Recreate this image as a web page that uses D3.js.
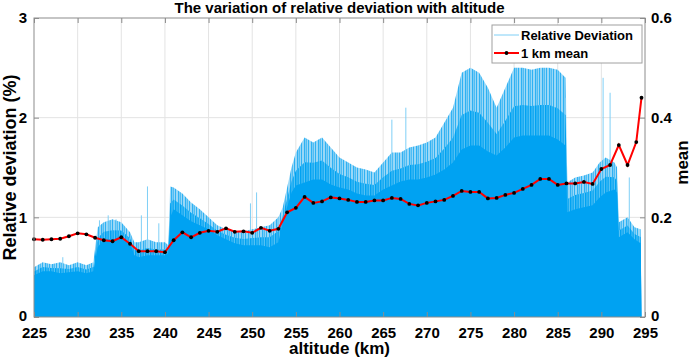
<!DOCTYPE html>
<html><head><meta charset="utf-8">
<script src="https://cdn.jsdelivr.net/npm/d3@7"></script>
<style>body{margin:0;background:#fff;}svg{display:block;font-family:"Liberation Sans",Arial,sans-serif;font-weight:bold;}</style>
</head><body><svg id="c" width="692" height="357"></svg>
<script>
// ---- data ----
const xTicks = [225,230,235,240,245,250,255,260,265,270,275,280,285,290,295];
const yLeftTicks = [0,1,2,3];
const yRightTicks = [0,0.2,0.4,0.6];
const yRightLabels = ["0","0.2","0.4","0.6"];

// 1 km mean (right axis)
const meanAlt = [225,226,227,228,229,230,231,232,233,234,235,236,237,238,239,240,241,242,243,244,245,246,247,248,249,250,251,252,253,254,255,256,257,258,259,260,261,262,263,264,265,266,267,268,269,270,271,272,273,274,275,276,277,278,279,280,281,282,283,284,285,286,287,288,289,290,291,292,293,294,294.6];
const meanVal = [0.156,0.155,0.156,0.157,0.162,0.168,0.166,0.159,0.154,0.152,0.160,0.147,0.132,0.132,0.132,0.130,0.154,0.170,0.160,0.169,0.173,0.171,0.178,0.171,0.172,0.169,0.179,0.173,0.177,0.210,0.219,0.241,0.229,0.232,0.240,0.238,0.235,0.231,0.231,0.234,0.234,0.239,0.237,0.227,0.224,0.229,0.232,0.235,0.243,0.253,0.251,0.251,0.238,0.239,0.245,0.249,0.257,0.265,0.277,0.277,0.265,0.268,0.268,0.271,0.267,0.297,0.305,0.345,0.305,0.351,0.440];

// relative deviation envelope (left axis, %): dense part and spike tops
const rdAlt  = [225,226,227,228,229,230,231,231.8,232.3,233,234,235,236,236.5,237,238,239,240,240.4,240.6,241,242,243,244,245,246,247,248,249,250,251,252,253,253.5,254,254.5,255,256,257,258,259,260,261,262,263,264,265,266,267,268,269,270,271,272,273,274,275,276,277,278,279,280,281,282,283,284,285,285.9,286.1,287,288,289,289.8,290.5,291.5,291.8,292,293,293.8,294.5,294.6];
const rdBase = [0.42,0.46,0.46,0.44,0.45,0.46,0.44,0.46,0.70,0.78,0.78,0.80,0.74,0.62,0.60,0.62,0.62,0.62,0.64,1.00,1.08,1.02,0.96,0.92,0.88,0.82,0.78,0.74,0.72,0.72,0.72,0.70,0.75,0.95,1.10,1.25,1.32,1.35,1.38,1.38,1.33,1.30,1.28,1.24,1.22,1.22,1.28,1.32,1.36,1.38,1.38,1.40,1.43,1.48,1.55,1.68,1.72,1.72,1.66,1.62,1.70,1.80,1.82,1.82,1.82,1.82,1.78,1.72,1.05,1.08,1.10,1.12,1.20,1.25,1.28,1.25,0.80,0.85,0.78,0.74,0];
const rdPeak = [0.50,0.55,0.53,0.55,0.52,0.55,0.52,0.55,0.90,0.95,0.98,0.95,0.85,0.75,0.75,0.78,0.75,0.75,0.72,1.31,1.30,1.24,1.15,1.08,1.00,0.92,0.88,0.86,0.86,0.88,0.90,0.92,1.00,1.10,1.30,1.50,1.65,1.80,1.75,1.80,1.70,1.60,1.55,1.50,1.48,1.45,1.55,1.65,1.65,1.70,1.72,1.75,1.80,1.95,2.10,2.45,2.50,2.45,2.30,2.10,2.30,2.50,2.50,2.48,2.50,2.50,2.48,2.40,1.35,1.40,1.42,1.45,1.55,1.60,1.55,1.50,0.95,1.00,0.90,0.88,0];
// isolated tall spikes
const spikeAlt = [228.3,232.5,233.5,234.4,237.3,238.0,239.3,249.8,250.5,253.0,266.0,267.6,285.9,290.2,291.0,293.2];
const spikeVal = [0.60,0.97,1.02,0.98,1.02,1.31,0.94,1.14,1.25,1.00,1.98,2.10,2.20,2.40,2.25,1.40];

// ---- layout ----
const svg = d3.select("#c");
const L=34, R=645, T=18, B=317;
const x = d3.scaleLinear().domain([225,295]).range([L,R]);
const yL = d3.scaleLinear().domain([0,3]).range([B,T]);
const yR = d3.scaleLinear().domain([0,0.6]).range([B,T]);
const solid = "#00a2f2", pale = "#9ad8f7", mid = "#2fb1f3";

// grid
const g = svg.append("g");
g.selectAll(".gx").data(xTicks.slice(1,-1)).join("line")
  .attr("x1",d=>x(d)).attr("x2",d=>x(d)).attr("y1",T).attr("y2",B)
  .attr("stroke","#e3e3e3").attr("stroke-width",1);
g.selectAll(".gy").data(yLeftTicks.slice(1,-1)).join("line")
  .attr("x1",L).attr("x2",R).attr("y1",d=>yL(d)).attr("y2",d=>yL(d))
  .attr("stroke","#e3e3e3").attr("stroke-width",1);

// stripe patterns for the spiky region
const defs = svg.append("defs");
function stripes(id, bg, fg, w, offs){
  const p = defs.append("pattern").attr("id",id).attr("patternUnits","userSpaceOnUse")
    .attr("width",w).attr("height",10);
  p.append("rect").attr("width",w).attr("height",10).attr("fill",bg);
  offs.forEach(o=>p.append("rect").attr("x",o[0]).attr("width",o[1]).attr("height",10).attr("fill",fg));
}
stripes("s1", pale, mid, 7, [[0,1],[3,1.3],[5,0.7]]);
stripes("s2", "#55c2f5", solid, 5, [[0,1.5],[2.5,1.2]]);

const rd = rdAlt.map((a,i)=>({a,b:rdBase[i],p:rdPeak[i]}));
svg.append("path").datum(rd)
  .attr("d",d3.area().x(d=>x(d.a)).y0(yL(0)).y1(d=>yL(d.p)))
  .attr("fill","url(#s1)");
svg.append("g").selectAll("line").data(spikeAlt.map((a,i)=>({a,v:spikeVal[i]}))).join("line")
  .attr("x1",d=>x(d.a)).attr("x2",d=>x(d.a)).attr("y1",yL(0)).attr("y2",d=>yL(d.v))
  .attr("stroke","#7fcff6").attr("stroke-width",1);
svg.append("path").datum(rd)
  .attr("d",d3.area().x(d=>x(d.a)).y0(yL(0)).y1(d=>yL(d.b+(d.p-d.b)*0.45)))
  .attr("fill","url(#s2)");
svg.append("path").datum(rd)
  .attr("d",d3.area().x(d=>x(d.a)).y0(yL(0)).y1(d=>yL(d.b)))
  .attr("fill",solid);

// mean line
const mp = meanAlt.map((a,i)=>({a,v:meanVal[i]}));
svg.append("path").datum(mp)
  .attr("d",d3.line().x(d=>x(d.a)).y(d=>yR(d.v)))
  .attr("fill","none").attr("stroke","#ff0000").attr("stroke-width",2);
svg.append("g").selectAll("circle").data(mp).join("circle")
  .attr("cx",d=>x(d.a)).attr("cy",d=>yR(d.v)).attr("r",1.9).attr("fill","#000");

// axes (MATLAB style, inward ticks)
const axCol = "#8c8c8c";
const ax = svg.append("g");
ax.append("rect").attr("x",L).attr("y",T).attr("width",R-L).attr("height",B-T)
  .attr("fill","none").attr("stroke",axCol).attr("stroke-width",1);
const xb = ax.append("g").attr("transform",`translate(0,${B})`)
  .call(d3.axisBottom(x).tickValues(xTicks).tickSize(-5).tickPadding(10).tickFormat(d3.format("d")));
const xt = ax.append("g").attr("transform",`translate(0,${T})`)
  .call(d3.axisTop(x).tickValues(xTicks).tickSize(-5).tickFormat(""));
const yl = ax.append("g").attr("transform",`translate(${L},0)`)
  .call(d3.axisLeft(yL).tickValues(yLeftTicks).tickSize(-5).tickPadding(7).tickFormat(d3.format("d")));
const yr = ax.append("g").attr("transform",`translate(${R},0)`)
  .call(d3.axisRight(yR).tickValues(yRightTicks).tickSize(-5).tickPadding(6).tickFormat((d,i)=>yRightLabels[i]));
[xb,xt,yl,yr].forEach(s=>{
  s.select(".domain").remove();
  s.selectAll(".tick line").attr("stroke",axCol);
  s.selectAll("text").attr("font-size",15).attr("font-weight","bold").attr("fill","#000")
    .attr("font-family","'Liberation Sans',Arial,sans-serif");
});
xb.selectAll("text").attr("dy","0.71em");
yl.selectAll(".tick").filter(d=>d===0).select("text").attr("dy","0.2em");
yr.selectAll(".tick").filter(d=>d===0).select("text").attr("dy","0.2em");

// titles
svg.append("text").attr("x",(L+R)/2).attr("y",12.5).attr("text-anchor","middle")
  .attr("font-size",15).text("The variation of relative deviation with altitude");
svg.append("text").attr("x",(L+R)/2).attr("y",354).attr("text-anchor","middle")
  .attr("font-size",17).text("altitude (km)");
svg.append("text").attr("transform",`translate(16,${(T+B)/2}) rotate(-90)`).attr("text-anchor","middle")
  .attr("font-size",18).text("Relative deviation (%)");
svg.append("text").attr("transform",`translate(688,${(T+B)/2 - 5}) rotate(-90)`).attr("text-anchor","middle")
  .attr("font-size",17).text("mean");

// legend
const lg = svg.append("g");
lg.append("rect").attr("x",492).attr("y",25).attr("width",150).attr("height",38)
  .attr("fill","#fff").attr("stroke","#a0a0a0").attr("stroke-width",1);
lg.append("line").attr("x1",494).attr("x2",519).attr("y1",35).attr("y2",35)
  .attr("stroke","#7fcff6").attr("stroke-width",1);
lg.append("text").attr("x",521).attr("y",35).attr("dy","0.35em").attr("font-size",13).text("Relative Deviation");
lg.append("line").attr("x1",494).attr("x2",519).attr("y1",53).attr("y2",53)
  .attr("stroke","#ff0000").attr("stroke-width",2);
lg.append("circle").attr("cx",506.5).attr("cy",53).attr("r",1.9).attr("fill","#000");
lg.append("text").attr("x",521).attr("y",53).attr("dy","0.35em").attr("font-size",13).text("1 km mean");
</script></body></html>
